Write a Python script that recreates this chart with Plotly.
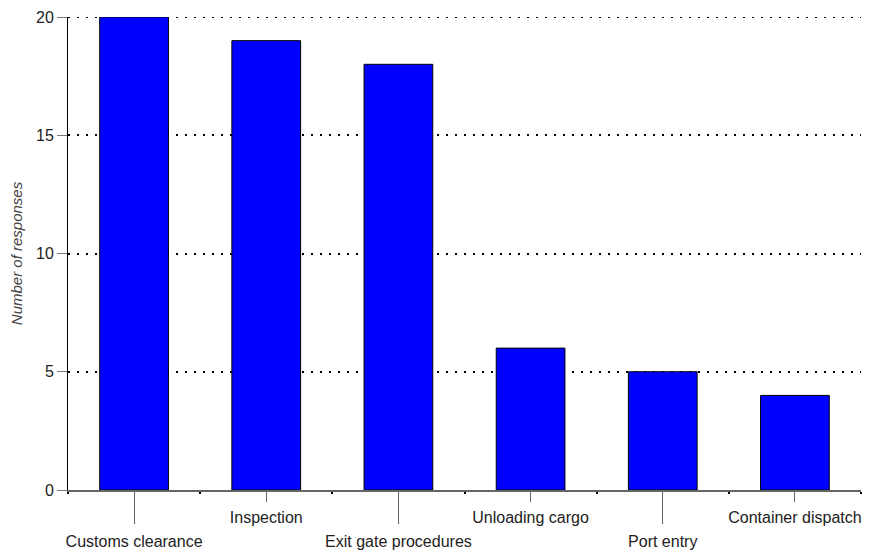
import plotly.graph_objects as go

# survey data
categories = ["Customs clearance", "Inspection", "Exit gate procedures",
              "Unloading cargo", "Port entry", "Container dispatch"]
responses = [20, 19, 18, 6, 5, 4]
y_ticks = [0, 5, 10, 15, 20]

idx = list(range(len(categories)))
# labels are staggered: even ones drop to a lower row with a long tick
low_idx = idx[0::2]
high_idx = idx[1::2]

font = "Liberation Sans, Arial, sans-serif"
dots = "2px,7px"

fig = go.Figure()
fig.add_trace(go.Bar(
    x=idx, y=responses, width=0.52,
    marker=dict(color="#0000FF", line=dict(color="black", width=1)),
    hoverinfo="x+y", showlegend=False,
))
# invisible helper so the second x axis gets drawn
fig.add_trace(go.Scatter(x=[idx[0]], y=[0], xaxis="x2", mode="markers",
                         marker=dict(opacity=0), hoverinfo="skip", showlegend=False))

# top gridline sits on the plot edge, plotly skips it -> draw it as a shape
fig.add_hline(y=y_ticks[-1], line=dict(color="black", width=2, dash=dots), layer="below")

# page body has an 8px margin, so the figure is 8px smaller each way
fig.update_layout(
    width=864, height=544,
    margin=dict(l=60, r=11, t=9, b=62, autoexpand=False),
    plot_bgcolor="white", paper_bgcolor="white",
    font=dict(family=font, size=16, color="#222"),
    xaxis=dict(
        range=[-0.5, len(categories) - 0.5], automargin=False,
        tickvals=high_idx, ticktext=[categories[i] for i in high_idx],
        ticks="outside", ticklen=10, tickwidth=1, tickcolor="#666",
        ticklabelstandoff=2,
        showline=True, linecolor="#666", linewidth=1.5,
        showgrid=False, zeroline=False,
        minor=dict(tick0=0.5, dtick=1, ticks="outside", ticklen=2,
                   tickwidth=2, tickcolor="black", showgrid=False),
    ),
    xaxis2=dict(
        range=[-0.5, len(categories) - 0.5], overlaying="x", anchor="y",
        side="bottom", automargin=False,
        tickvals=low_idx, ticktext=[categories[i] for i in low_idx],
        ticks="outside", ticklen=33, tickwidth=1, tickcolor="#666",
        ticklabelstandoff=4,
        showline=False, showgrid=False, zeroline=False,
    ),
    yaxis=dict(
        range=[0, 20], tickvals=y_ticks, automargin=False,
        ticks="outside", ticklen=10, tickwidth=1, tickcolor="#777",
        showline=True, linecolor="black", linewidth=1,
        showgrid=True, gridcolor="black", gridwidth=2, griddash=dots,
        zeroline=False,
        title=dict(text="<i>Number of responses</i>",
                   font=dict(size=15, color="#444"), standoff=16),
    ),
)

fig.write_html("out.html")
